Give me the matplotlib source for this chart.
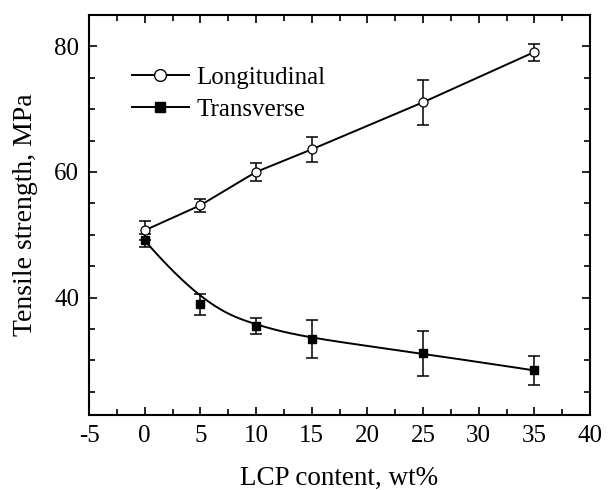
import numpy as np
import matplotlib
matplotlib.use("Agg")
import matplotlib.pyplot as plt
from matplotlib.ticker import MultipleLocator

plt.rcParams['font.family'] = ['Liberation Serif', 'DejaVu Serif']
plt.rcParams['axes.unicode_minus'] = False

lcp = [0, 5, 10, 15, 25, 35]
longitudinal = [50.7, 54.7, 60.0, 63.6, 71.1, 79.1]
longitudinal_err = [1.5, 1.0, 1.45, 2.0, 3.55, 1.35]
transverse = [49.1, 38.9, 35.5, 33.4, 31.1, 28.4]
transverse_err = [1.05, 1.7, 1.25, 3.0, 3.55, 2.3]


def bspline(xs, ys, n=300):
    # clamped cubic b-spline, data points used as control points
    cx = np.asarray(xs, float)
    cy = np.asarray(ys, float)
    k = 3
    m = len(cx)
    inner = np.linspace(0, 1, m - k + 1)
    knots = np.concatenate([[0] * k, inner, [1] * k])
    t = np.linspace(0, 1, n)
    t[-1] = 1 - 1e-12

    def basis(i, p, t):
        if p == 0:
            return ((knots[i] <= t) & (t < knots[i + 1])).astype(float)
        a = 0.0
        d1 = knots[i + p] - knots[i]
        if d1 > 0:
            a = (t - knots[i]) / d1 * basis(i, p - 1, t)
        b = 0.0
        d2 = knots[i + p + 1] - knots[i + 1]
        if d2 > 0:
            b = (knots[i + p + 1] - t) / d2 * basis(i + 1, p - 1, t)
        return a + b

    B = np.array([basis(i, k, t) for i in range(m)])
    return cx @ B, cy @ B


fig = plt.figure(figsize=(6.12, 4.9), dpi=100)
ax = fig.add_axes([89 / 612, 75 / 490, 501 / 612, 400 / 490])

ax.plot(lcp, longitudinal, color='black', lw=1.4, zorder=2)
ax.errorbar(lcp, longitudinal, yerr=longitudinal_err, fmt='none', ecolor='black',
            elinewidth=1.1, capsize=4.5, capthick=1.1, zorder=2)
ax.plot(lcp, longitudinal, 'o', mfc='white', mec='black', ms=6.5, mew=0.9, zorder=3)

sx, sy = bspline(lcp, transverse)
ax.plot(sx, sy, color='black', lw=1.4, zorder=2)
ax.errorbar(lcp, transverse, yerr=transverse_err, fmt='none', ecolor='black',
            elinewidth=1.1, capsize=4.5, capthick=1.1, zorder=2)
ax.plot(lcp, transverse, 's', color='black', ms=5.5, zorder=3)

# legend handles
h1, = ax.plot([], [], '-o', color='black', mfc='white', mec='black', ms=8.5, lw=1.4)
h2, = ax.plot([], [], '-s', color='black', ms=7.5, lw=1.4)
ax.legend([h1, h2], ['Longitudinal', 'Transverse'], loc='upper left',
          bbox_to_anchor=(0.04, 0.928), frameon=False, fontsize=18,
          handlelength=2.3, handletextpad=0.3, labelspacing=0.38)

ax.set_xlim(-5, 40)
ax.set_ylim(21.3, 85)
ax.xaxis.set_major_locator(MultipleLocator(5))
ax.xaxis.set_minor_locator(MultipleLocator(2.5))
ax.yaxis.set_major_locator(MultipleLocator(20))
ax.yaxis.set_minor_locator(MultipleLocator(5))
ax.tick_params(which='both', direction='in', top=True, right=True, width=1.2)
ax.tick_params(which='major', length=6, labelsize=18, pad=7)
ax.tick_params(which='minor', length=4)
for s in ax.spines.values():
    s.set_linewidth(1.5)

ax.set_xlabel('LCP content, wt%', fontsize=19.5, labelpad=14)
ax.set_ylabel('Tensile strength, MPa', fontsize=20, labelpad=12)

fig.savefig('out.png', dpi=100)
